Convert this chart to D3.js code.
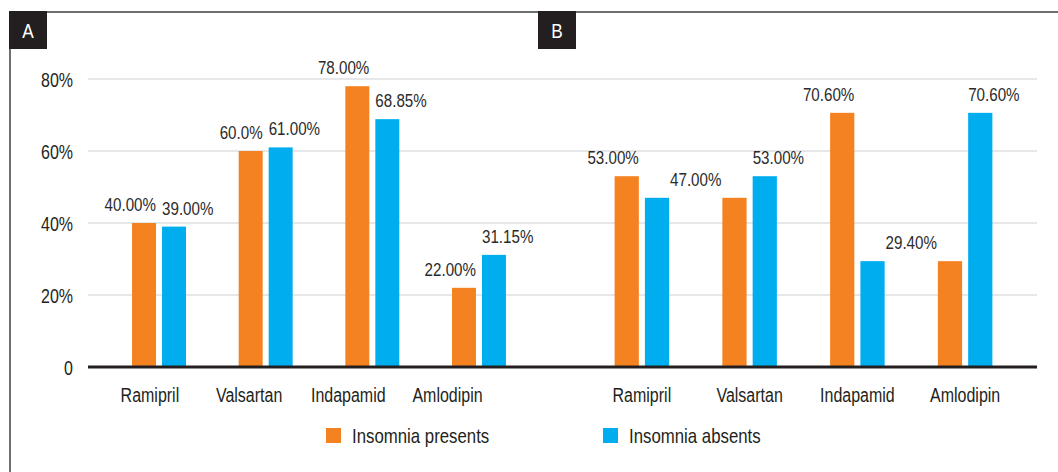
<!DOCTYPE html>
<html>
<head>
<meta charset="utf-8">
<script src="https://cdn.jsdelivr.net/npm/d3@7"></script>
<style>
  html, body { margin: 0; padding: 0; background: #fff; }
  svg { display: block; font-family: "Liberation Sans", Arial, sans-serif; }
</style>
</head>
<body>
<svg id="chart" width="1058" height="472"></svg>
<script>
// ---- data ----
const categories = ["Ramipril", "Valsartan", "Indapamid", "Amlodipin"];
const seriesNames = ["Insomnia presents", "Insomnia absents"];
const seriesColors = ["#f58220", "#00aeef"];

const presentsA = [40, 60, 78, 22];
const absentsA = [39, 61, 68.85, 31.15];
const presentsB = [53, 47, 70.6, 29.4];
const absentsB = [47, 53, 29.4, 70.6];

const yTicks = [0, 20, 40, 60, 80];
const yTickLabels = ["0", "20%", "40%", "60%", "80%"];

// value labels: series 0 = presents (over orange), 1 = absents (over blue), "gap" = between blue of cat and orange of next cat
const labelsA = [
  { cat: 0, series: 0, text: "40.00%" }, { cat: 0, series: 1, text: "39.00%" },
  { cat: 1, series: 0, text: "60.0%" },  { cat: 1, series: 1, text: "61.00%" },
  { cat: 2, series: 0, text: "78.00%" }, { cat: 2, series: 1, text: "68.85%" },
  { cat: 3, series: 0, text: "22.00%" }, { cat: 3, series: 1, text: "31.15%" }
];
const labelsB = [
  { cat: 0, series: 0, text: "53.00%" },
  { cat: 0, series: "gap", text: "47.00%" },
  { cat: 1, series: 1, text: "53.00%" },
  { cat: 2, series: 0, text: "70.60%" },
  { cat: 2, series: "gap", text: "29.40%" },
  { cat: 3, series: 1, text: "70.60%" }
];

// ---- layout ----
const svg = d3.select("#chart");
const textColor = "#231f20";
const NARROW = 0.82; // horizontal squeeze to mimic a condensed face
const y = d3.scaleLinear().domain([0, 80]).range([367, 79]);
const plotLeft = 88, plotRight = 1037;

function narrowText(sel, x, yv) {
  return sel.attr("transform", (d, i) => `translate(${typeof x === "function" ? x(d, i) : x},${typeof yv === "function" ? yv(d, i) : yv}) scale(${NARROW},1)`);
}

// frame
svg.append("line").attr("x1", 9).attr("x2", 1058).attr("y1", 12).attr("y2", 12)
  .attr("stroke", "#6d6e71").attr("stroke-width", 2);
svg.append("line").attr("x1", 10).attr("x2", 10).attr("y1", 12).attr("y2", 472)
  .attr("stroke", "#414042").attr("stroke-width", 1.5);

// gridlines
svg.append("g").selectAll("line").data(yTicks.filter(d => d > 0)).join("line")
  .attr("x1", plotLeft).attr("x2", plotRight)
  .attr("y1", d => y(d)).attr("y2", d => y(d))
  .attr("stroke", "#e6e7e8").attr("stroke-width", 2);

// y axis labels
const yAxis = d3.axisLeft(y).tickValues(yTicks).tickSize(0).tickPadding(0)
  .tickFormat((d, i) => yTickLabels[i]);
const yg = svg.append("g").attr("transform", "translate(73,0)").call(yAxis);
yg.select(".domain").remove();
yg.selectAll("text").attr("font-size", 19.5).attr("fill", textColor)
  .attr("font-family", "'Liberation Sans', Arial, sans-serif")
  .attr("x", 0).attr("dy", "0.36em").attr("transform", `scale(${NARROW},1)`);

// panels
const panels = [
  { name: "A", pres: presentsA, abs: absentsA, labels: labelsA, range: [105.7, 532.3], tickRange: [100.3, 497.1], boxX: 9 },
  { name: "B", pres: presentsB, abs: absentsB, labels: labelsB, range: [588, 1019], tickRange: [588, 1019], boxX: 538 }
];

panels.forEach(p => {
  const x0 = d3.scaleBand().domain(categories).range(p.range).paddingInner(0.494).paddingOuter(0.247);
  const x1 = d3.scaleBand().domain([0, 1]).range([0, x0.bandwidth()]).paddingInner(0.2).paddingOuter(0);
  const data = categories.map((c, i) => ({ cat: c, vals: [p.pres[i], p.abs[i]] }));

  const g = svg.append("g");
  g.selectAll("g.grp").data(data).join("g").attr("class", "grp")
    .attr("transform", d => `translate(${x0(d.cat)},0)`)
    .selectAll("rect").data(d => d.vals.map((v, s) => ({ v, s }))).join("rect")
      .attr("x", d => x1(d.s)).attr("width", x1.bandwidth())
      .attr("y", d => y(d.v)).attr("height", d => y(0) - y(d.v))
      .attr("fill", d => seriesColors[d.s]);

  // value labels
  const vl = g.selectAll("text.val").data(p.labels).join("text").attr("class", "val")
    .attr("font-size", 18.5).attr("fill", "#2b2b2b")
    .attr("text-anchor", d => d.series === 0 ? "end" : d.series === 1 ? "start" : "middle")
    .text(d => d.text);
  narrowText(vl, d => {
      const c = categories[d.cat];
      if (d.series === 0) return x0(c) + x1(0) + x1.bandwidth();
      if (d.series === 1) return x0(c) + x1(1);
      const a = x0(c) + x1(1) + x1.bandwidth();
      const b = x0(categories[d.cat + 1]) + x1(0);
      return (a + b) / 2;
    }, d => {
      const v = d.series === 0 ? p.pres[d.cat] : p.abs[d.cat];
      return y(v) - 12;
    });

  // category axis
  const xt = d3.scaleBand().domain(categories).range(p.tickRange);
  const xAxis = d3.axisBottom(xt).tickSize(0).tickPadding(0);
  const xg = svg.append("g").attr("transform", "translate(0,402)").call(xAxis);
  xg.select(".domain").remove();
  xg.selectAll("text").attr("font-size", 19.5).attr("fill", textColor)
    .attr("font-family", "'Liberation Sans', Arial, sans-serif")
    .attr("y", 0).attr("dy", 0).attr("transform", `scale(${NARROW},1)`);

  // panel label box
  svg.append("rect").attr("x", p.boxX).attr("y", 11).attr("width", 38).attr("height", 38).attr("fill", "#231f20");
  const pt = svg.append("text").attr("text-anchor", "middle")
    .attr("font-size", 21).attr("fill", "#fff").text(p.name);
  narrowText(pt, p.boxX + 19, 38);
});

// baseline
svg.append("line").attr("x1", plotLeft).attr("x2", plotRight).attr("y1", y(0)).attr("y2", y(0))
  .attr("stroke", "#231f20").attr("stroke-width", 3);

// legend
const legendX = [326, 603];
const lg = svg.append("g").selectAll("g").data(seriesNames).join("g")
  .attr("transform", (d, i) => `translate(${legendX[i]},428)`);
lg.append("rect").attr("width", 15).attr("height", 15).attr("fill", (d, i) => seriesColors[i]);
narrowText(lg.append("text").attr("font-size", 20.5).attr("fill", textColor).text(d => d), 26, 15);
</script>
</body>
</html>
